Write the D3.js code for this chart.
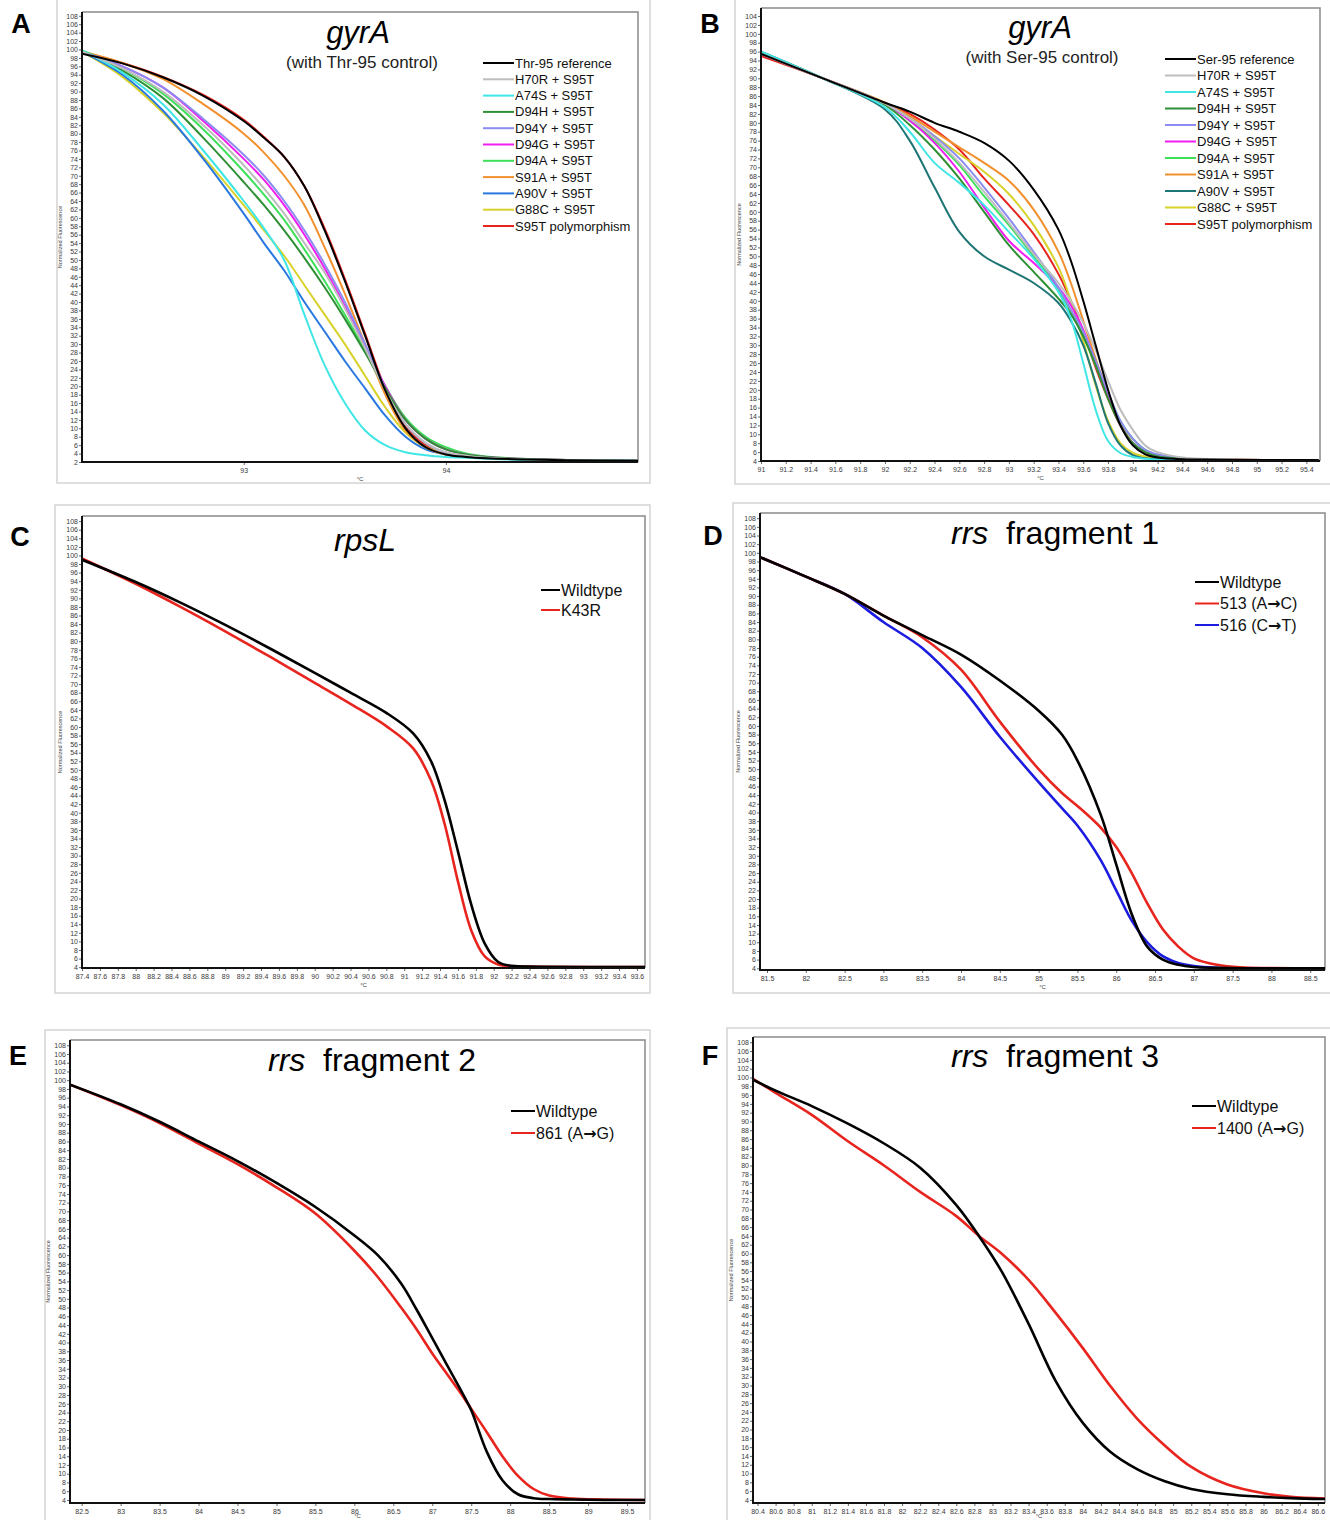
<!DOCTYPE html>
<html>
<head>
<meta charset="utf-8">
<script src="https://cdn.jsdelivr.net/npm/d3@7"></script>
<style>
  body { margin: 0; background: #fff; }
  svg { display: block; }
  text { font-family: Arial, "Liberation Sans", sans-serif; }
</style>
</head>
<body>
<div id="fig"></div>
<script>
// ---------- Panel A : gyrA (with Thr-95 control) ----------
const tempsA = [92.2, 92.4, 92.6, 92.8, 93.0, 93.1, 93.2, 93.3, 93.4, 93.5, 93.6, 93.7, 93.8, 93.9, 94.0, 94.1, 94.2, 94.4, 94.6, 94.95];
const thrRefA = [99, 96.7, 93.4, 89, 83, 79, 74.5, 67.5, 57, 45, 32, 19, 10, 5.5, 3.8, 3.2, 2.9, 2.6, 2.4, 2.3];
const h70rA = [99.5, 95.5, 90, 82, 72.5, 67, 61, 54, 47, 38.5, 29, 19, 11, 6.5, 4.3, 3.5, 3, 2.6, 2.4, 2.3];
const a74sA = [99.7, 94.5, 87, 76, 64, 57.5, 50, 37, 25, 16, 9.5, 6, 4.3, 3.6, 3.2, 3, 2.8, 2.5, 2.4, 2.3];
const d94hA = [99.6, 95, 88.5, 79, 68.5, 63, 57, 50.5, 43.5, 36, 28, 19.5, 12, 7.5, 5, 3.8, 3.2, 2.7, 2.5, 2.3];
const d94yA = [99.4, 96, 91, 83.5, 75, 70, 64, 57, 49, 40, 30, 19.5, 11, 6.5, 4.2, 3.4, 3, 2.6, 2.4, 2.3];
const d94gA = [99.4, 96, 91, 83, 74, 69, 63, 56, 48, 39, 29.5, 20, 12, 7.5, 5, 3.8, 3.2, 2.7, 2.5, 2.3];
const d94aA = [99.8, 95.5, 89.5, 81, 71, 65.5, 59.5, 52.5, 45, 37, 28.5, 20, 12.5, 8, 5.5, 4, 3.3, 2.7, 2.5, 2.3];
const s91aA = [99.5, 96.8, 93, 87, 80, 75.5, 70, 63, 53, 42, 30, 18, 9.5, 5.5, 3.8, 3.2, 2.9, 2.6, 2.4, 2.3];
const a90vA = [99.5, 94, 85.5, 74, 61, 54, 47.5, 40, 33, 26, 19.5, 13, 8, 5, 3.8, 3.2, 2.9, 2.6, 2.4, 2.3];
const g88cA = [99.5, 93.5, 85, 74.5, 63, 57, 51, 44, 37, 30, 22.5, 15, 9, 5.5, 4, 3.3, 3, 2.6, 2.4, 2.3];
const s95tA = [99.3, 96.8, 93.5, 89.2, 83.3, 79.2, 74.5, 67.5, 57.5, 45.5, 32.5, 19.5, 10.5, 6, 4, 3.3, 3, 2.6, 2.4, 2.3];
const xTicksA = [93, 94];

// ---------- Panel B : gyrA (with Ser-95 control) ----------
const tempsB = [91.0, 91.5, 92.0, 92.2, 92.4, 92.6, 92.8, 93.0, 93.2, 93.4, 93.5, 93.6, 93.7, 93.8, 93.9, 94.0, 94.1, 94.2, 94.4, 94.7, 95.5];
const serRefB = [95.5, 90, 84.5, 82.5, 80, 78, 75.5, 71.5, 65, 56, 49, 40, 30, 20, 12, 7.5, 5.5, 4.8, 4.4, 4.3, 4.2];
const h70rB = [95.5, 90, 84.3, 81, 76.5, 71, 64.5, 57.5, 50.5, 44, 40, 35, 29, 22, 15.5, 11, 7.5, 6, 4.8, 4.4, 4.2];
const a74sB = [96, 90, 83.5, 78, 71, 66.5, 61.5, 55.5, 49.5, 42, 36, 26, 15.5, 8.5, 5.8, 4.9, 4.5, 4.3, 4.2, 4.2, 4.2];
const d94hB = [95.8, 90, 84, 79.5, 74, 67.5, 60, 52.5, 46.5, 40.5, 37, 32, 25.5, 18, 12, 8, 6, 5, 4.5, 4.3, 4.2];
const d94yB = [95.5, 90, 84.3, 81, 77, 72, 65.5, 58.5, 51, 43, 38, 33, 26.5, 19.5, 13, 9, 6.5, 5.5, 4.6, 4.3, 4.2];
const d94gB = [95.5, 90, 84.3, 80.5, 75.5, 69, 61, 53.5, 48.5, 43, 39, 33.5, 26, 18.5, 12, 8, 6, 5, 4.5, 4.3, 4.2];
const d94aB = [95.5, 90, 84.3, 80.5, 76, 70.5, 63.5, 57, 50, 42.5, 37.5, 32, 25.5, 19, 13, 9, 6.5, 5.3, 4.6, 4.3, 4.2];
const s91aB = [95.5, 90, 84.5, 81.5, 78, 74.5, 71, 67, 60.5, 51, 44, 35.5, 27, 19, 12.5, 8, 5.8, 5, 4.5, 4.3, 4.2];
const a90vB = [96, 90, 83, 76, 65.5, 55.5, 50, 47, 44, 39.5, 35.5, 30, 21.5, 12.5, 7.5, 5.3, 4.6, 4.4, 4.3, 4.2, 4.2];
const g88cB = [95.5, 90, 84.5, 81, 77, 73, 69, 64, 57, 47.5, 40, 31, 21, 13, 8, 5.8, 5, 4.6, 4.4, 4.3, 4.2];
const s95tB = [95, 90, 84.5, 82, 78.5, 74, 67.5, 61.5, 55, 46, 40, 33, 25, 18, 12, 8, 5.8, 5, 4.5, 4.3, 4.2];
const xTicksB = [91, 91.2, 91.4, 91.6, 91.8, 92, 92.2, 92.4, 92.6, 92.8, 93, 93.2, 93.4, 93.6, 93.8, 94, 94.2, 94.4, 94.6, 94.8, 95, 95.2, 95.4];

// ---------- Panel C : rpsL ----------
const tempsC = [87.4, 88, 88.5, 89, 89.5, 90, 90.4, 90.8, 91.1, 91.3, 91.45, 91.6, 91.75, 91.9, 92.05, 92.2, 92.5, 93.69];
const wildC = [99, 93.8, 89, 83.8, 78.3, 72.6, 68, 63.3, 58.5, 52, 43, 31, 18.5, 9.5, 5.2, 4.3, 4.1, 4];
const k43rC = [99.3, 93.4, 88, 82.3, 76.4, 70.3, 65.4, 60.2, 55, 47.5, 37.5, 24, 12.5, 6.5, 4.6, 4.2, 4.1, 4];
const xTicksC = [87.4, 87.6, 87.8, 88, 88.2, 88.4, 88.6, 88.8, 89, 89.2, 89.4, 89.6, 89.8, 90, 90.2, 90.4, 90.6, 90.8, 91, 91.2, 91.4, 91.6, 91.8, 92, 92.2, 92.4, 92.6, 92.8, 93, 93.2, 93.4, 93.6];

// ---------- Panel D : rrs fragment 1 ----------
const tempsD = [81.41, 82, 82.5, 83, 83.5, 84, 84.5, 85, 85.3, 85.5, 85.8, 86, 86.2, 86.4, 86.6, 86.8, 87, 87.3, 87.6, 88, 88.69];
const wildD = [99, 94.5, 90.5, 85.5, 81, 76.5, 70.5, 63.5, 58, 52, 39.5, 28, 16.5, 9, 6, 4.8, 4.3, 4.1, 4, 4, 4];
const m513D = [99, 94.5, 90.5, 85.5, 80.5, 73, 61, 50, 44.5, 41.5, 36.5, 32, 26, 19, 13, 9, 6.3, 4.8, 4.2, 4.05, 4];
const m516D = [99, 94.5, 90.5, 84, 78, 69, 57.5, 47, 41, 37, 29, 22, 15, 10, 6.8, 5.2, 4.5, 4.1, 4, 4, 4];
const xTicksD = [81.5, 82, 82.5, 83, 83.5, 84, 84.5, 85, 85.5, 86, 86.5, 87, 87.5, 88, 88.5];

// ---------- Panel E : rrs fragment 2 ----------
const tempsE = [82.35, 83, 83.5, 84, 84.5, 85, 85.5, 86, 86.3, 86.6, 86.8, 87, 87.2, 87.4, 87.5, 87.7, 87.9, 88.1, 88.3, 88.5, 88.8, 89.2, 89.73];
const wildE = [99, 94.5, 90.5, 86, 81.5, 76.5, 71, 64.5, 60, 53.5, 47.5, 41, 34.5, 28, 24.5, 15, 8.5, 5.3, 4.4, 4.2, 4.1, 4, 4];
const m861E = [99, 94.3, 90.2, 85.5, 80.8, 75.5, 69.5, 61, 55, 48, 43, 37.5, 32.5, 27.5, 24.8, 19.5, 14, 9.5, 6.5, 5, 4.3, 4.1, 4];
const xTicksE = [82.5, 83, 83.5, 84, 84.5, 85, 85.5, 86, 86.5, 87, 87.5, 88, 88.5, 89, 89.5];

// ---------- Panel F : rrs fragment 3 ----------
const tempsF = [80.35, 80.6, 81, 81.4, 81.8, 82.2, 82.6, 82.85, 83.1, 83.4, 83.7, 84, 84.3, 84.6, 84.9, 85.2, 85.6, 86, 86.3, 86.68];
const wildF = [99.5, 97, 93.5, 89.5, 85, 79.5, 71, 64, 56, 44, 31, 21.5, 15, 11, 8.3, 6.5, 5.3, 4.7, 4.4, 4.2];
const m1400F = [99.7, 96.5, 91.5, 85.5, 80, 74, 68.5, 64, 60, 54, 46.5, 38.5, 30, 22.5, 16.5, 11.5, 7.5, 5.5, 4.7, 4.3];
const xTicksF = [80.4, 80.6, 80.8, 81, 81.2, 81.4, 81.6, 81.8, 82, 82.2, 82.4, 82.6, 82.8, 83, 83.2, 83.4, 83.6, 83.8, 84, 84.2, 84.4, 84.6, 84.8, 85, 85.2, 85.4, 85.6, 85.8, 86, 86.2, 86.4, 86.6];

const gyrLabelsA = ['Thr-95 reference', 'H70R + S95T', 'A74S + S95T', 'D94H + S95T', 'D94Y + S95T', 'D94G + S95T', 'D94A + S95T', 'S91A + S95T', 'A90V + S95T', 'G88C + S95T', 'S95T polymorphism'];
const gyrLabelsB = ['Ser-95 reference', 'H70R + S95T', 'A74S + S95T', 'D94H + S95T', 'D94Y + S95T', 'D94G + S95T', 'D94A + S95T', 'S91A + S95T', 'A90V + S95T', 'G88C + S95T', 'S95T polymorphism'];
const gyrColorsA = ['#000000', '#bdbdbd', '#3fe6e6', '#2f8f35', '#8c8cf0', '#f01ef0', '#3ee05a', '#f2902e', '#2878e0', '#d8d22a', '#e8241e'];
const gyrColorsB = ['#000000', '#bdbdbd', '#3fe6e6', '#2f8f35', '#8c8cf0', '#f01ef0', '#3ee05a', '#f2902e', '#1e7575', '#d8d22a', '#e8241e'];

const svg = d3.select('#fig').append('svg').attr('width', 1330).attr('height', 1520);
const tickFont = '"Liberation Sans Narrow", "DejaVu Sans Condensed", Arial, sans-serif';

const drawPanel = (p) => {
  const g = svg.append('g');

  // outer light frame
  g.append('rect')
    .attr('x', p.frame[0]).attr('y', p.frame[1])
    .attr('width', p.frame[2]).attr('height', p.frame[3])
    .attr('fill', 'none').attr('stroke', '#d4d4d4').attr('stroke-width', 1.5);

  g.append('text').text(p.letter)
    .attr('x', p.letterPos[0]).attr('y', p.letterPos[1])
    .attr('font-size', 27).attr('font-weight', 'bold').attr('text-anchor', 'middle');

  const x = d3.scaleLinear().domain(p.xDomain).range([p.x0, p.x1]);
  const y = d3.scaleLinear().domain(p.yDomain).range([p.y1, p.y0]);

  // top / right grey border
  g.append('path')
    .attr('d', `M${p.x0},${p.y0}H${p.x1}V${p.y1}`)
    .attr('fill', 'none').attr('stroke', '#8a8a8a').attr('stroke-width', 1.5);

  const yAxis = g.append('g')
    .attr('transform', `translate(${p.x0},0)`)
    .call(d3.axisLeft(y).tickValues(p.yTicks).tickSize(3).tickFormat(d3.format('d')));
  yAxis.select('.domain').remove();
  yAxis.selectAll('line').attr('stroke', '#666');
  yAxis.selectAll('text')
    .attr('font-size', 7).attr('fill', '#3a3a3a')
    .attr('font-family', tickFont)
    .attr('x', -4);

  const xAxis = g.append('g')
    .attr('transform', `translate(0,${p.y1})`)
    .call(d3.axisBottom(x).tickValues(p.xTicks).tickSize(3).tickFormat(d3.format('~g')));
  xAxis.select('.domain').remove();
  xAxis.selectAll('line').attr('stroke', '#666');
  xAxis.selectAll('text')
    .attr('font-size', 7).attr('fill', '#3a3a3a')
    .attr('font-family', tickFont)
    .attr('y', 6);

  g.append('text').text('°C')
    .attr('x', (p.x0 + p.x1) / 2).attr('y', p.y1 + (p.unitGap || 19))
    .attr('font-size', 6).attr('fill', '#444').attr('text-anchor', 'middle');

  g.append('text').text('Normalized Fluorescence')
    .attr('transform', `translate(${p.x0 - 20},${(p.y0 + p.y1) / 2}) rotate(-90)`)
    .attr('font-size', 5.5).attr('fill', '#444').attr('text-anchor', 'middle');

  // clip + curves
  const clipId = `clip-${p.letter}`;
  g.append('clipPath').attr('id', clipId)
    .append('rect').attr('x', p.x0).attr('y', p.y0)
    .attr('width', p.x1 - p.x0).attr('height', p.y1 - p.y0);

  const line = d3.line()
    .x((d) => x(d[0]))
    .y((d) => y(d[1]))
    .curve(d3.curveCatmullRom.alpha(0.5));

  const curves = g.append('g').attr('clip-path', `url(#${clipId})`);
  p.series.slice().reverse().forEach((s) => {
    curves.append('path')
      .datum(p.temps.map((t, i) => [t, s.values[i]]))
      .attr('d', line)
      .attr('fill', 'none')
      .attr('stroke', s.color)
      .attr('stroke-width', p.lw || 2)
      .attr('stroke-linejoin', 'round');
  });

  // left / bottom black axes
  g.append('path')
    .attr('d', `M${p.x0},${p.y0}V${p.y1}H${p.x1}`)
    .attr('fill', 'none').attr('stroke', '#111').attr('stroke-width', 2);

  // title
  const title = g.append('text')
    .attr('x', p.titlePos[0]).attr('y', p.titlePos[1])
    .attr('font-size', p.titleSize).attr('text-anchor', 'middle');
  p.title.forEach((part) => {
    title.append('tspan').text(part.t)
      .attr('font-style', part.it ? 'italic' : 'normal')
      .attr('xml:space', 'preserve');
  });
  if (p.subtitle) {
    g.append('text').text(p.subtitle)
      .attr('x', p.subPos[0]).attr('y', p.subPos[1])
      .attr('font-size', 17).attr('text-anchor', 'middle').attr('fill', '#222');
  }

  // legend
  const lg = p.legend;
  p.series.forEach((s, i) => {
    const yy = lg.y + i * lg.dy;
    g.append('line')
      .attr('x1', lg.x).attr('x2', lg.x + lg.len)
      .attr('y1', yy).attr('y2', yy)
      .attr('stroke', s.color).attr('stroke-width', 2);
    const t = g.append('text')
      .attr('x', lg.x + lg.len + 1).attr('y', yy)
      .attr('dy', '0.35em')
      .attr('font-size', lg.size).attr('fill', '#111');
    s.label.split('\u2192').forEach((part, j) => {
      if (j > 0) {
        t.append('tspan').text('\u2192')
          .attr('font-family', '"DejaVu Sans", sans-serif')
          .attr('font-weight', 'bold');
      }
      t.append('tspan').text(part);
    });
  });
};

const yTicks2to108 = d3.range(2, 109, 2);
const yTicks4to104 = d3.range(4, 105, 2);
const yTicks4to108 = d3.range(4, 109, 2);

drawPanel({
  letter: 'A', letterPos: [21, 33], frame: [57, -2, 593, 485],
  x0: 82, x1: 638, y0: 12, y1: 462,
  xDomain: [92.2, 94.95], yDomain: [2, 108.9],
  xTicks: xTicksA, yTicks: yTicks2to108, temps: tempsA,
  series: [thrRefA, h70rA, a74sA, d94hA, d94yA, d94gA, d94aA, s91aA, a90vA, g88cA, s95tA]
    .map((v, i) => ({ values: v, color: gyrColorsA[i], label: gyrLabelsA[i] })),
  title: [{ t: 'gyrA', it: true }], titlePos: [358, 43], titleSize: 31,
  subtitle: '(with Thr-95 control)', subPos: [362, 68],
  legend: { x: 483, y: 63, dy: 16.3, len: 31, size: 13 },
});

drawPanel({
  letter: 'B', letterPos: [710, 33], frame: [735, -2, 600, 486],
  x0: 761, x1: 1320, y0: 8, y1: 461,
  xDomain: [91, 95.51], yDomain: [4, 105.8],
  xTicks: xTicksB, yTicks: yTicks4to104, temps: tempsB,
  series: [serRefB, h70rB, a74sB, d94hB, d94yB, d94gB, d94aB, s91aB, a90vB, g88cB, s95tB]
    .map((v, i) => ({ values: v, color: gyrColorsB[i], label: gyrLabelsB[i] })),
  title: [{ t: 'gyrA', it: true }], titlePos: [1040, 38], titleSize: 31,
  subtitle: '(with Ser-95 control)', subPos: [1042, 63],
  legend: { x: 1165, y: 59, dy: 16.5, len: 31, size: 13 },
});

drawPanel({
  letter: 'C', letterPos: [20, 546], frame: [55, 505, 595, 488],
  x0: 82, x1: 645, y0: 516, y1: 968,
  xDomain: [87.4, 93.69], yDomain: [3.8, 109.2],
  xTicks: xTicksC, yTicks: yTicks4to108, temps: tempsC,
  series: [
    { values: wildC, color: '#000000', label: 'Wildtype' },
    { values: k43rC, color: '#e8241e', label: 'K43R' },
  ],
  lw: 2.6,
  title: [{ t: 'rpsL', it: true }], titlePos: [365, 551], titleSize: 32,
  legend: { x: 541, y: 590, dy: 20, len: 19, size: 16 },
});

drawPanel({
  letter: 'D', letterPos: [713, 545], frame: [733, 503, 600, 490],
  x0: 760, x1: 1325, y0: 513, y1: 970,
  xDomain: [81.41, 88.69], yDomain: [3.6, 109.2],
  xTicks: xTicksD, yTicks: yTicks4to108, temps: tempsD,
  series: [
    { values: wildD, color: '#000000', label: 'Wildtype' },
    { values: m513D, color: '#e8241e', label: '513 (A\u2192C)' },
    { values: m516D, color: '#1c1ce0', label: '516 (C\u2192T)' },
  ],
  lw: 2.6,
  title: [{ t: 'rrs', it: true }, { t: '  fragment 1', it: false }], titlePos: [1055, 544], titleSize: 32,
  legend: { x: 1195, y: 582, dy: 21.5, len: 24, size: 16 },
});

drawPanel({
  letter: 'E', letterPos: [18, 1065], frame: [45, 1030, 605, 500],
  x0: 70, x1: 645, y0: 1040, y1: 1503,
  xDomain: [82.35, 89.73], yDomain: [3.3, 109.2],
  xTicks: xTicksE, yTicks: yTicks4to108, temps: tempsE,
  series: [
    { values: wildE, color: '#000000', label: 'Wildtype' },
    { values: m861E, color: '#e8241e', label: '861 (A\u2192G)' },
  ],
  lw: 2.6, unitGap: 15,
  title: [{ t: 'rrs', it: true }, { t: '  fragment 2', it: false }], titlePos: [372, 1071], titleSize: 32,
  legend: { x: 511, y: 1111, dy: 22, len: 24, size: 16 },
});

drawPanel({
  letter: 'F', letterPos: [710, 1065], frame: [727, 1028, 610, 502],
  x0: 753, x1: 1325, y0: 1037, y1: 1503,
  xDomain: [80.35, 86.68], yDomain: [3.3, 109.2],
  xTicks: xTicksF, yTicks: yTicks4to108, temps: tempsF,
  series: [
    { values: wildF, color: '#000000', label: 'Wildtype' },
    { values: m1400F, color: '#e8241e', label: '1400 (A\u2192G)' },
  ],
  lw: 2.6, unitGap: 15,
  title: [{ t: 'rrs', it: true }, { t: '  fragment 3', it: false }], titlePos: [1055, 1067], titleSize: 32,
  legend: { x: 1192, y: 1106, dy: 22, len: 24, size: 16 },
});
</script>
</body>
</html>
